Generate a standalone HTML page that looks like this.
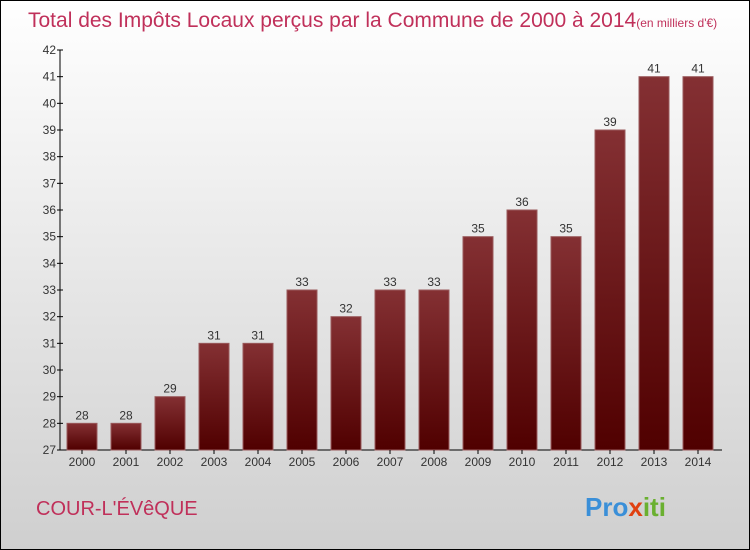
<!DOCTYPE html>
<html><head><meta charset="utf-8"><style>
body{margin:0;}
svg{display:block;font-family:"Liberation Sans",sans-serif;}
</style></head><body>
<svg id="c" width="750" height="550">
<defs>
<linearGradient id="bg" x1="0" y1="0" x2="0" y2="1"><stop offset="0" stop-color="#ffffff"/><stop offset="1" stop-color="#cfcfcf"/></linearGradient>
<linearGradient id="bar" x1="0" y1="0" x2="0" y2="1"><stop offset="0" stop-color="#843033"/><stop offset="1" stop-color="#500000"/></linearGradient>
</defs>
<rect x="0.5" y="0.5" width="749" height="549" fill="url(#bg)" stroke="#000"/>
<text x="28" y="27" font-size="21" fill="#c0305a">Total des Impôts Locaux perçus par la Commune de 2000 à 2014<tspan font-size="12">(en milliers d'€)</tspan></text>
<text x="36" y="515" font-size="20" fill="#c0305a">COUR-L'ÉVêQUE</text>
<text x="585" y="516" font-size="26" font-weight="bold"><tspan fill="#3a8fd8">Pro</tspan><tspan fill="#e04010">x</tspan><tspan fill="#6ab030">iti</tspan></text>
<g id="plot"></g>
</svg>
<script>
const years=["2000","2001","2002","2003","2004","2005","2006","2007","2008","2009","2010","2011","2012","2013","2014"];
const values=[28,28,29,31,31,33,32,33,33,35,36,35,39,41,41];
const yTicks=[27,28,29,30,31,32,33,34,35,36,37,38,39,40,41,42];
const ns="http://www.w3.org/2000/svg";
const g=document.getElementById('plot');
const y0=450,y1=50,vmin=27,vmax=42;
function yS(v){return y0-(v-vmin)/(vmax-vmin)*(y0-y1);}
function xS(i){return 82+i*44;}
function mk(t,a,txt){const e=document.createElementNS(ns,t);for(const k in a)e.setAttribute(k,a[k]);if(txt!==undefined)e.textContent=txt;g.appendChild(e);return e;}
let e=mk('line',{x1:60,y1:y1,x2:60,y2:y0,stroke:'#000'});


e=mk('line',{x1:60,y1:y0,x2:722,y2:y0,stroke:'#000'});


yTicks.forEach(v=>{
 const t=mk('line',{x1:57,y1:yS(v),x2:63,y2:yS(v),stroke:'#000'});
 
 
 const l=mk('text',{x:56,y:yS(v)+4,'font-size':12,'text-anchor':'end',fill:'#333'},v);
 
 
});
years.forEach((yr,i)=>{
 const x=xS(i),v=values[i];
 const r=mk('rect',{x:x-15,y:yS(v),width:30,height:y0-yS(v),fill:'url(#bar)',stroke:'#9a5a5c','stroke-width':1});
 
 
 const vl=mk('text',{x:x,y:yS(v)-4,'font-size':12,'text-anchor':'middle',fill:'#333'},v);
 
 
 const t=mk('line',{x1:x,y1:y0,x2:x,y2:y0+4,stroke:'#000'});
 
 
 const xl=mk('text',{x:x,y:466,'font-size':12,'text-anchor':'middle',fill:'#333'},yr);
 
 
});
</script>
</body></html>
